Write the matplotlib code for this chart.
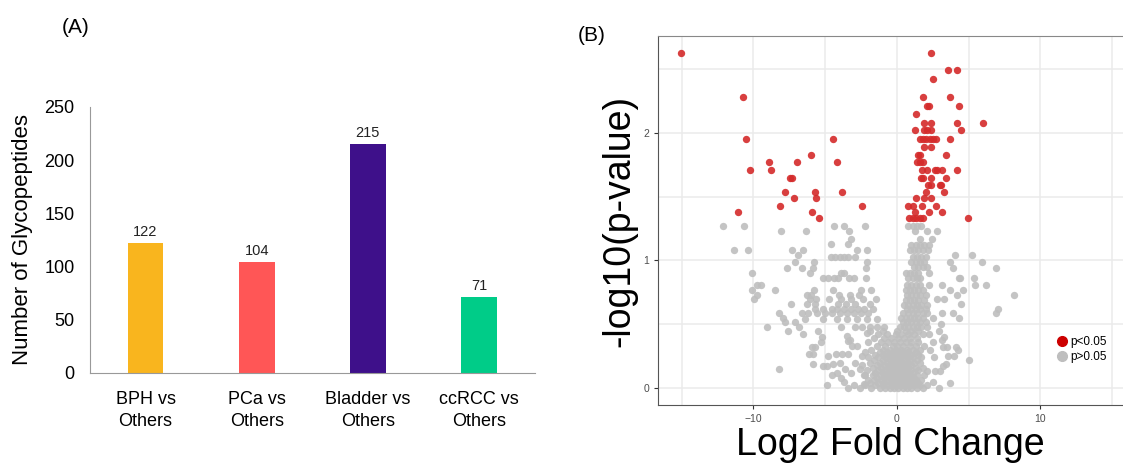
import numpy as np
import matplotlib.pyplot as plt
from matplotlib.lines import Line2D

plt.rcParams['font.family'] = ['Liberation Sans', 'DejaVu Sans']

# ---- panel A data
groups = ['BPH vs\nOthers', 'PCa vs\nOthers', 'Bladder vs\nOthers', 'ccRCC vs\nOthers']
counts = [122, 104, 215, 71]
bar_colors = ['#F9B51E', '#FF5656', '#3E108A', '#00CC88']

# ---- panel B data (log2 fold change, -log10 p)
red_pts = [
    (-15.07, 2.63), (-10.71, 2.28), (-10.55, 1.95), (-4.44, 1.95), (-5.97, 1.83),
    (-8.92, 1.77), (-6.97, 1.77), (-4.16, 1.77), (-10.27, 1.71), (-8.78, 1.71),
    (-7.45, 1.65), (-7.3, 1.65), (-7.83, 1.54), (-5.69, 1.54), (-3.83, 1.54),
    (-7.18, 1.49), (-5.62, 1.49), (-8.15, 1.43), (-2.44, 1.43), (-11.06, 1.38),
    (-5.92, 1.38), (-5.41, 1.33),
    (2.35, 2.63), (3.53, 2.49), (4.2, 2.49), (2.53, 2.42), (1.83, 2.28), (3.67, 2.28),
    (2.1, 2.21), (2.2, 2.21), (4.32, 2.21), (1.32, 2.15), (1.9, 2.08), (2.35, 2.08),
    (4.16, 2.08), (5.97, 2.08), (1.28, 2.02), (1.9, 2.02), (2.07, 2.02), (2.35, 2.02),
    (4.46, 2.02), (1.6, 1.95), (1.85, 1.95), (2.05, 1.95), (2.3, 1.95), (2.5, 1.95),
    (2.75, 1.95), (3.69, 1.95), (1.9, 1.89), (2.35, 1.89), (1.49, 1.83), (1.6, 1.83),
    (3.44, 1.83), (1.37, 1.77), (1.6, 1.77), (1.83, 1.77), (1.77, 1.71), (2.07, 1.71),
    (2.65, 1.71), (2.77, 1.71), (3.14, 1.71), (4.16, 1.71), (1.65, 1.65), (1.79, 1.65),
    (2.35, 1.65), (3.39, 1.65), (2.19, 1.59), (2.35, 1.59), (3.0, 1.59), (3.07, 1.59),
    (2.0, 1.54), (3.25, 1.54), (1.32, 1.49), (1.9, 1.49), (2.35, 1.49), (0.79, 1.43),
    (1.14, 1.43), (1.72, 1.43), (2.7, 1.43), (1.25, 1.38), (2.23, 1.38), (3.11, 1.38),
    (0.86, 1.33), (1.1, 1.33), (1.32, 1.33), (1.6, 1.33), (1.83, 1.33), (4.97, 1.33),
]

grey_left = [
    (-12.13, 1.27), (-10.68, 1.27), (-11.34, 1.08), (-10.36, 1.08), (-8.08, 1.23),
    (-6.32, 1.23), (-4.41, 1.27), (-3.69, 1.27), (-2.21, 1.27), (-3.32, 1.23),
    (-3.2, 1.17), (-3.44, 1.13), (-4.62, 1.13), (-7.32, 1.08), (-6.57, 1.08),
    (-2.77, 1.08), (-2.07, 1.08), (-6.88, 1.04), (-7.09, 0.99), (-5.78, 0.99),
    (-4.6, 1.03), (-4.3, 1.03), (-4.0, 1.03), (-3.7, 1.03), (-3.4, 1.03), (-2.9, 1.03),
    (-2.07, 0.99), (-7.69, 0.94), (-6.62, 0.94), (-6.04, 0.90), (-5.83, 0.94),
    (-3.92, 0.90), (-3.69, 0.90), (-2.16, 0.94), (-10.13, 0.90),
    (-5.15, 0.86), (-4.8, 0.86), (-4.4, 0.86), (-4.1, 0.86), (-3.32, 0.86), (-3.0, 0.86),
    (-2.16, 0.86), (-9.78, 0.81), (-9.48, 0.81), (-10.13, 0.77), (-9.73, 0.73),
    (-9.97, 0.70), (-8.5, 0.77), (-5.78, 0.77), (-4.46, 0.77), (-2.49, 0.77), (-1.83, 0.77),
    (-6.27, 0.73), (-5.97, 0.73), (-4.06, 0.73), (-3.3, 0.73), (-2.63, 0.73),
    (-6.04, 0.70), (-5.62, 0.70), (-4.72, 0.70), (-3.92, 0.70), (-3.18, 0.70),
    (-2.34, 0.70), (-1.48, 0.70), (-7.39, 0.66), (-6.25, 0.66), (-5.69, 0.66),
    (-4.13, 0.66), (-3.57, 0.66), (-2.93, 0.66), (-1.88, 0.66),
    (-5.71, 0.62), (-5.16, 0.62), (-4.55, 0.62), (-4.2, 0.62), (-3.7, 0.62), (-3.2, 0.62),
    (-2.7, 0.62), (-2.3, 0.62), (-1.69, 0.62), (-8.2, 0.59), (-6.64, 0.59), (-6.18, 0.59),
    (-5.6, 0.59), (-5.0, 0.59), (-4.5, 0.59), (-4.0, 0.59), (-3.5, 0.59), (-3.0, 0.59),
    (-2.5, 0.59), (-2.0, 0.59), (-7.92, 0.55), (-7.8, 0.52), (-6.4, 0.54), (-5.13, 0.54),
    (-4.2, 0.54), (-3.5, 0.54), (-2.81, 0.54), (-2.11, 0.54), (-1.41, 0.54),
    (-7.09, 0.52), (-9.06, 0.48), (-6.81, 0.48), (-7.57, 0.45), (-5.48, 0.45),
    (-3.92, 0.48), (-2.9, 0.48), (-2.4, 0.48), (-1.9, 0.48), (-1.4, 0.48), (-0.9, 0.48),
    (-6.53, 0.42), (-5.25, 0.40), (-3.5, 0.41), (-3.3, 0.38), (-2.1, 0.43),
    (-5.69, 0.32), (-5.92, 0.32), (-6.15, 0.27), (-5.87, 0.27), (-5.32, 0.36),
    (-3.4, 0.37), (-3.16, 0.33), (-2.81, 0.33), (-5.83, 0.19), (-5.13, 0.17),
    (-4.9, 0.17), (-4.48, 0.19), (-4.83, 0.25), (-4.27, 0.27), (-3.85, 0.27),
    (-3.41, 0.27), (-8.2, 0.15), (-4.9, 0.02), (-4.5, 0.10), (-3.4, 0.0), (-3.0, 0.02),
    (-2.6, 0.0), (-2.3, 0.03), (-4.2, 0.12), (-3.9, 0.08), (-3.6, 0.15), (-3.2, 0.12),
    (-2.9, 0.2), (-2.6, 0.15), (-2.4, 0.25), (-3.7, 0.05), (-4.0, 0.2), (-2.2, 0.1),
]

grey_column = [
    (0.8, 1.27), (1.1, 1.27), (1.4, 1.27), (1.7, 1.27), (1.25, 1.23), (2.07, 1.23),
    (2.77, 1.23), (1.6, 1.17), (2.42, 1.17), (1.0, 1.12), (1.3, 1.12), (1.6, 1.12),
    (1.9, 1.12), (2.2, 1.12), (0.9, 1.08), (1.2, 1.08), (1.5, 1.08), (1.85, 1.08),
    (2.15, 1.08), (1.1, 1.03), (1.4, 1.03), (1.7, 1.03), (2.0, 1.03), (1.0, 0.99),
    (1.3, 0.99), (1.6, 0.99), (1.9, 0.99), (1.2, 0.95), (1.5, 0.95), (1.8, 0.95),
    (2.1, 0.95), (0.6, 0.90), (0.9, 0.90), (1.2, 0.90), (1.5, 0.90), (2.25, 0.90),
    (0.8, 0.86), (1.1, 0.86), (1.4, 0.86), (1.6, 0.86), (0.7, 0.81), (1.0, 0.81),
    (1.3, 0.81), (1.6, 0.81), (2.25, 0.81), (0.6, 0.77), (0.9, 0.77), (1.2, 0.77),
    (1.5, 0.77), (1.8, 0.77), (0.7, 0.73), (1.0, 0.73), (1.3, 0.73), (1.6, 0.73),
    (2.0, 0.73), (0.6, 0.69), (0.9, 0.69), (1.2, 0.69), (1.5, 0.69), (1.9, 0.69),
    (0.5, 0.65), (0.8, 0.65), (1.1, 0.65), (1.4, 0.65), (1.7, 0.65), (2.1, 0.65),
    (0.7, 0.62), (1.0, 0.62), (1.3, 0.62), (1.6, 0.62), (2.0, 0.62), (0.4, 0.59),
    (0.8, 0.59), (1.1, 0.59), (1.4, 0.59), (1.79, 0.59), (2.07, 0.59), (0.26, 0.55),
    (0.6, 0.55), (0.9, 0.55), (1.2, 0.55), (1.5, 0.55), (1.8, 0.55), (0.4, 0.52),
    (0.7, 0.52), (1.0, 0.52), (1.3, 0.52), (1.6, 0.52), (2.0, 0.52), (0.2, 0.48),
    (0.5, 0.48), (0.8, 0.48), (1.1, 0.48), (1.4, 0.48), (1.7, 0.48), (2.1, 0.48),
]

grey_right = [
    (4.04, 1.04), (5.2, 1.04), (3.69, 0.99), (5.9, 0.99), (3.92, 0.94), (6.9, 0.94),
    (4.32, 0.86), (4.42, 0.86), (5.39, 0.86), (3.16, 0.81), (5.46, 0.81), (6.18, 0.81),
    (3.67, 0.77), (4.58, 0.77), (4.2, 0.73), (8.13, 0.73), (2.77, 0.70), (3.3, 0.70),
    (4.46, 0.66), (7.06, 0.62), (6.9, 0.59), (3.88, 0.59), (4.32, 0.55), (3.11, 0.59),
    (3.07, 0.50), (2.5, 0.55), (2.9, 0.45), (3.28, 0.40), (3.11, 0.38), (2.49, 0.36),
    (4.11, 0.32), (4.27, 0.30), (3.23, 0.32), (3.46, 0.32), (3.58, 0.25), (3.97, 0.25),
    (5.0, 0.22), (3.39, 0.19), (3.23, 0.17), (2.65, 0.13), (3.0, 0.13), (2.07, 0.13),
    (3.69, 0.04), (2.93, 0.0), (2.3, 0.3), (2.6, 0.24), (2.2, 0.42), (2.5, 0.05), (2.1, 0.02),
]

grey_core = [
    (-1.8, 0.0), (-1.2, 0.0), (-0.8, 0.0), (-0.5, 0.0), (-0.2, 0.0), (0.1, 0.0), (0.4, 0.0),
    (0.7, 0.0), (1.0, 0.0), (1.4, 0.0), (1.8, 0.0),
    (-2.2, 0.02), (-1.5, 0.02), (-1.0, 0.02), (-0.6, 0.02), (-0.3, 0.02), (0.0, 0.02),
    (0.3, 0.02), (0.6, 0.02), (0.9, 0.02), (1.2, 0.02), (1.6, 0.02),
    (-1.9, 0.04), (-1.3, 0.04), (-0.9, 0.04), (-0.4, 0.04), (-0.1, 0.04), (0.2, 0.04),
    (0.5, 0.04), (0.8, 0.04), (1.1, 0.04), (1.5, 0.04),
    (-2.0, 0.06), (-1.6, 0.06), (-1.1, 0.06), (-0.7, 0.06), (-0.3, 0.06), (0.0, 0.06),
    (0.3, 0.06), (0.6, 0.06), (1.0, 0.06), (1.3, 0.06), (1.7, 0.06),
    (-1.4, 0.08), (-0.9, 0.08), (-0.5, 0.08), (-0.2, 0.08), (0.1, 0.08), (0.4, 0.08),
    (0.8, 0.08), (1.2, 0.08),
    (-2.3, 0.10), (-1.7, 0.10), (-1.2, 0.10), (-0.8, 0.10), (-0.4, 0.10), (-0.1, 0.10),
    (0.2, 0.10), (0.5, 0.10), (0.9, 0.10), (1.4, 0.10), (1.9, 0.10),
    (-1.5, 0.12), (-1.0, 0.12), (-0.6, 0.12), (-0.3, 0.12), (0.0, 0.12), (0.3, 0.12),
    (0.7, 0.12), (1.1, 0.12),
    (-2.1, 0.14), (-1.3, 0.14), (-0.8, 0.14), (-0.4, 0.14), (-0.1, 0.14), (0.2, 0.14),
    (0.6, 0.14), (1.0, 0.14), (1.5, 0.14),
    (-1.7, 0.16), (-1.1, 0.16), (-0.6, 0.16), (-0.2, 0.16), (0.1, 0.16), (0.4, 0.16),
    (0.8, 0.16), (1.3, 0.16), (1.8, 0.16),
    (-2.4, 0.18), (-1.4, 0.18), (-0.9, 0.18), (-0.5, 0.18), (-0.1, 0.18), (0.2, 0.18),
    (0.6, 0.18), (1.0, 0.18),
    (-1.9, 0.20), (-1.2, 0.20), (-0.7, 0.20), (-0.3, 0.20), (0.0, 0.20), (0.4, 0.20),
    (0.8, 0.20), (1.2, 0.20), (1.6, 0.20),
    (-1.6, 0.22), (-1.0, 0.22), (-0.5, 0.22), (-0.2, 0.22), (0.1, 0.22), (0.5, 0.22),
    (0.9, 0.22), (1.4, 0.22),
    (-2.0, 0.24), (-1.3, 0.24), (-0.8, 0.24), (-0.4, 0.24), (0.0, 0.24), (0.3, 0.24),
    (0.7, 0.24), (1.1, 0.24), (1.7, 0.24),
    (-1.5, 0.26), (-1.0, 0.26), (-0.6, 0.26), (-0.2, 0.26), (0.2, 0.26), (0.6, 0.26),
    (1.0, 0.26), (1.5, 0.26),
    (-2.2, 0.28), (-1.2, 0.28), (-0.7, 0.28), (-0.3, 0.28), (0.1, 0.28), (0.4, 0.28),
    (0.8, 0.28), (1.3, 0.28),
    (-1.8, 0.30), (-1.0, 0.30), (-0.5, 0.30), (-0.1, 0.30), (0.3, 0.30), (0.7, 0.30),
    (1.1, 0.30), (1.6, 0.30),
    (-1.4, 0.33), (-0.8, 0.33), (-0.3, 0.33), (0.0, 0.33), (0.4, 0.33), (0.9, 0.33),
    (1.3, 0.33), (1.9, 0.33),
    (-2.0, 0.36), (-1.1, 0.36), (-0.6, 0.36), (-0.2, 0.36), (0.2, 0.36), (0.6, 0.36),
    (1.0, 0.36), (1.5, 0.36),
    (-1.6, 0.39), (-0.9, 0.39), (-0.4, 0.39), (0.1, 0.39), (0.5, 0.39), (0.9, 0.39),
    (1.4, 0.39),
    (-1.3, 0.42), (-0.7, 0.42), (-0.1, 0.42), (0.3, 0.42), (0.8, 0.42), (1.2, 0.42),
    (1.8, 0.42),
    (-1.9, 0.45), (-1.0, 0.45), (0.0, 0.45), (0.6, 0.45), (1.0, 0.45), (1.5, 0.45),
]

fig = plt.figure(figsize=(11.23, 4.74), dpi=100)

# ---------------- (A) bar chart
ax1 = fig.add_axes([0.0801, 0.2131, 0.396, 0.5612])
xpos = np.arange(len(groups))
ax1.bar(xpos, counts, width=0.32, color=bar_colors)
for xi, c in zip(xpos, counts):
    ax1.text(xi, c + 4, str(c), ha='center', va='bottom', fontsize=10.5, color='#222222')
ax1.set_xlim(-0.5, 3.5)
ax1.set_ylim(0, 250)
ax1.set_yticks([0, 50, 100, 150, 200, 250])
ax1.set_xticks(xpos)
ax1.set_xticklabels(groups, fontsize=13, linespacing=1.4)
ax1.tick_params(axis='y', labelsize=13, length=0, pad=11)
ax1.tick_params(axis='x', length=0, pad=13)
for s in ['top', 'right']:
    ax1.spines[s].set_visible(False)
for s in ['left', 'bottom']:
    ax1.spines[s].set_color('#999999')
ax1.set_ylabel('Number of Glycopeptides', fontsize=16)
ax1.yaxis.set_label_coords(-0.128, 0.5)
fig.text(0.067, 0.943, '(A)', fontsize=15, ha='center', va='center')

# ---------------- (B) volcano plot
ax2 = fig.add_axes([0.5859, 0.1456, 0.4141, 0.7785])
grey = np.array(grey_left + grey_column + grey_right + grey_core)
red = np.array(red_pts)
ax2.scatter(grey[:, 0], grey[:, 1], s=28, color='#BEBEBE', alpha=0.9, linewidths=0, zorder=2)
ax2.scatter(red[:, 0], red[:, 1], s=28, color='#D42A2A', alpha=0.9, linewidths=0, zorder=3)
ax2.set_xlim(-16.65, 15.75)
ax2.set_ylim(-0.133, 2.76)
ax2.set_xticks([-10, 0, 10])
ax2.set_yticks([0, 1, 2])
ax2.set_xticks([-15, -5, 5, 15], minor=True)
ax2.set_yticks([0.5, 1.5, 2.5], minor=True)
ax2.grid(True, which='both', color='#EBEBEB', linewidth=1.1, zorder=0)
ax2.set_axisbelow(True)
ax2.tick_params(which='major', labelsize=7.5, labelcolor='#4D4D4D', color='#333333', length=3)
ax2.tick_params(which='minor', length=0)
ax2.spines['right'].set_visible(False)
ax2.spines['top'].set_color('#888888')
ax2.spines['left'].set_color('#555555')
ax2.spines['bottom'].set_color('#555555')
ax2.set_xlabel('Log2 Fold Change', fontsize=27, labelpad=2)
ax2.set_ylabel('-log10(p-value)', fontsize=27, labelpad=4)

handles = [Line2D([], [], marker='o', linestyle='', color='#CC0000', markersize=7),
           Line2D([], [], marker='o', linestyle='', color='#BEBEBE', markersize=7)]
ax2.legend(handles, ['p<0.05', 'p>0.05'], loc='center left', bbox_to_anchor=(0.83, 0.15),
           frameon=False, fontsize=8.5, handletextpad=0.1, labelspacing=0.3, handlelength=1.2)
fig.text(0.527, 0.926, '(B)', fontsize=15, ha='center', va='center')

fig.savefig('out.png', dpi=100)
